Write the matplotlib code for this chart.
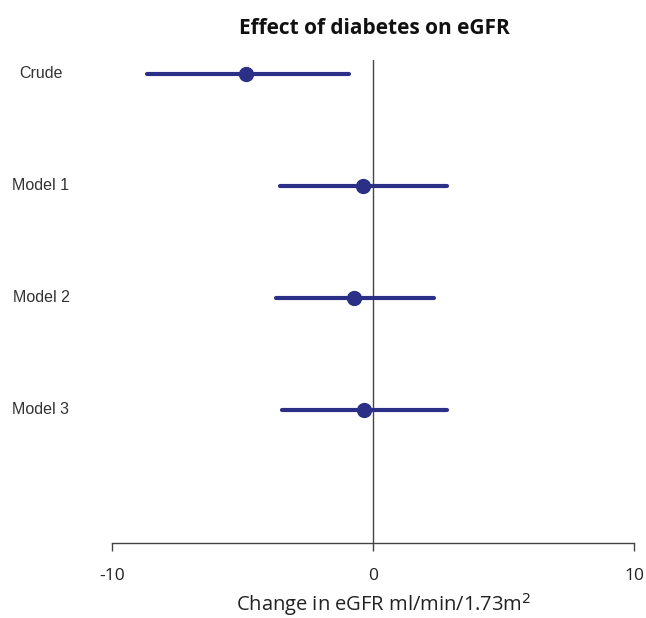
import matplotlib
matplotlib.use("Agg")
import matplotlib.pyplot as plt
import matplotlib.transforms as mtransforms

# estimates
models = ["Crude", "Model 1", "Model 2", "Model 3"]
est = [-4.87, -0.38, -0.73, -0.34]
lo = [-8.66, -3.56, -3.72, -3.49]
hi = [-0.92, 2.84, 2.34, 2.84]
xticks = [-10, 0, 10]

col = "#2b2f86"
ypos = [4, 3, 2, 1]

fig = plt.figure(figsize=(6.46, 6.18), dpi=100)
ax = fig.add_axes([112 / 646, 1 - 543 / 618, 522 / 646, 483 / 618])

for y, e, l, h in zip(ypos, est, lo, hi):
    ax.plot([l, h], [y, y], color=col, lw=3, solid_capstyle="round", zorder=2)
    ax.plot(e, y, "o", color=col, ms=10, zorder=3)

ax.axvline(0, color="#444444", lw=1, zorder=1)

ax.set_xlim(-10, 10)
ax.set_ylim(-0.1875, 4.125)
for s in ["top", "right", "left"]:
    ax.spines[s].set_visible(False)
ax.spines["bottom"].set_color("#444444")
ax.spines["bottom"].set_linewidth(1)
ax.set_yticks([])
ax.set_xticks(xticks)
ax.set_xticklabels([str(t) for t in xticks], fontsize=12.5, family="Open Sans", color="#222222")
ax.tick_params(axis="x", direction="out", length=6, width=1, color="#444444", pad=12)

# row labels, centred left of the plot
trans = mtransforms.blended_transform_factory(fig.transFigure, ax.transData)
for y, m in zip(ypos, models):
    fig.text(41 / 646, y, m, transform=trans, ha="center", va="center",
             fontsize=11.5, family="Liberation Sans", color="#333333")

fig.text(374 / 646, 1 - 28 / 618, "Effect of diabetes on eGFR", ha="center", va="center",
         fontsize=15, fontweight="bold", family="Open Sans", color="#111111")
fig.text(384 / 646, 1 - 605 / 618, "Change in eGFR ml/min/1.73m$^2$", ha="center", va="center",
         fontsize=14.5, family="Open Sans", color="#222222")

fig.savefig("out.png", dpi=100)
